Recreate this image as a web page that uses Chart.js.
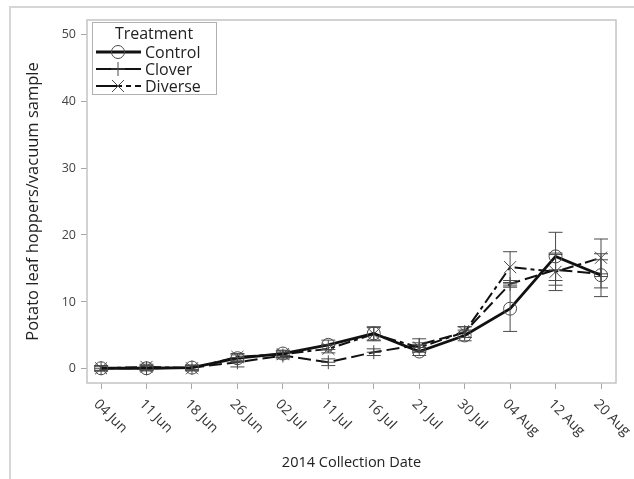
<!DOCTYPE html>
<html>
<head>
<meta charset="utf-8">
<script src="https://cdn.jsdelivr.net/npm/chart.js@4/dist/chart.umd.min.js"></script>
<style>
  html, body { margin: 0; padding: 0; background: #fff; }
  canvas { display: block; }
</style>
</head>
<body>
<canvas id="hoppers" width="634" height="479"></canvas>
<script>
// collection dates and mean counts per treatment, with standard errors
const dates = ["04 Jun", "11 Jun", "18 Jun", "26 Jun", "02 Jul", "11 Jul", "16 Jul", "21 Jul", "30 Jul", "04 Aug", "12 Aug", "20 Aug"];
const control    = [0.1, 0.1, 0.2, 1.6, 2.3, 3.6, 5.3, 2.6, 5.0, 9.0, 16.8, 14.0];
const controlErr = [0.4, 0.4, 0.4, 0.5, 0.5, 0.7, 1.0, 0.6, 0.8, 3.4, 3.6, 3.2];
const clover     = [0.1, 0.1, 0.2, 1.0, 2.0, 1.0, 2.5, 3.6, 5.5, 12.7, 14.8, 14.2];
const cloverErr  = [0.3, 0.3, 0.3, 0.7, 0.5, 0.5, 0.5, 0.9, 0.8, 0.5, 2.3, 2.1];
const diverse    = [0.1, 0.3, 0.1, 1.8, 2.2, 3.0, 5.2, 3.2, 5.5, 15.2, 14.5, 16.6];
const diverseErr = [0.4, 0.4, 0.4, 0.5, 0.5, 0.6, 1.0, 0.7, 0.8, 2.3, 2.8, 2.8];
const yTicks = [0, 10, 20, 30, 40, 50];

const FONT = "'Open Sans', 'DejaVu Sans', sans-serif";
const MARK = "#4a4a4a";

const toPoints = arr => arr.map((v, i) => ({ x: i, y: v }));

const series = [
  { label: "Control", data: control, err: controlErr, width: 2.8, dash: [], legendDash: [], style: "circle", r: 6.5 },
  { label: "Clover",  data: clover,  err: cloverErr,  width: 2,   dash: [13, 5], legendDash: [], style: "cross", r: 7 },
  { label: "Diverse", data: diverse, err: diverseErr, width: 2,   dash: [12, 4, 4, 4], legendDash: [26, 4, 5, 4], style: "crossRot", r: 8.5 },
];

// outer frame (only top and left edges show) and the plot box
const framePlugin = {
  id: "frame",
  beforeDraw(chart) {
    const ctx = chart.ctx;
    ctx.save();
    ctx.strokeStyle = "#d6d6d6";
    ctx.lineWidth = 2;
    ctx.beginPath();
    ctx.moveTo(10, 479);
    ctx.lineTo(10, 7);
    ctx.lineTo(634, 7);
    ctx.stroke();
    ctx.restore();
  },
  beforeDatasetsDraw(chart) {
    const a = chart.chartArea, ctx = chart.ctx;
    ctx.save();
    ctx.strokeStyle = "#c4c4c4";
    ctx.lineWidth = 1.5;
    ctx.strokeRect(a.left, a.top, a.right - a.left, a.bottom - a.top);
    ctx.restore();
  }
};

// vertical error bars with caps
const errorBarPlugin = {
  id: "errorBars",
  afterDatasetsDraw(chart) {
    const ctx = chart.ctx, xs = chart.scales.x, ys = chart.scales.y;
    ctx.save();
    ctx.strokeStyle = MARK;
    ctx.lineWidth = 1;
    series.forEach(s => {
      s.data.forEach((v, i) => {
        const x = xs.getPixelForValue(i);
        const yLo = ys.getPixelForValue(v - s.err[i]);
        const yHi = ys.getPixelForValue(v + s.err[i]);
        ctx.beginPath();
        ctx.moveTo(x, yLo); ctx.lineTo(x, yHi);
        ctx.moveTo(x - 7, yLo); ctx.lineTo(x + 7, yLo);
        ctx.moveTo(x - 7, yHi); ctx.lineTo(x + 7, yHi);
        ctx.stroke();
      });
    });
    ctx.restore();
  }
};

// date labels slanting down to the right, starting at each tick
const dateLabelPlugin = {
  id: "dateLabels",
  afterDraw(chart) {
    const ctx = chart.ctx, xs = chart.scales.x;
    ctx.save();
    ctx.font = "14px " + FONT;
    ctx.fillStyle = "#333";
    ctx.textAlign = "left";
    ctx.textBaseline = "middle";
    dates.forEach((d, i) => {
      const x = xs.getPixelForValue(i);
      ctx.save();
      ctx.translate(x - 5, xs.top + 19);
      ctx.rotate(Math.PI / 4);
      ctx.fillText(d, 0, 0);
      ctx.restore();
    });
    ctx.restore();
  }
};

// boxed legend in the upper-left corner of the plot
const legendPlugin = {
  id: "treatmentLegend",
  afterDraw(chart) {
    const ctx = chart.ctx;
    const bx = 92, by = 22, bw = 124, bh = 72;
    ctx.save();
    ctx.fillStyle = "#fff";
    ctx.fillRect(bx, by, bw, bh);
    ctx.strokeStyle = "#b0b0b0";
    ctx.lineWidth = 1;
    ctx.strokeRect(bx + 0.5, by + 0.5, bw, bh);

    ctx.fillStyle = "#222";
    ctx.font = "16px " + FONT;
    ctx.textAlign = "center";
    ctx.textBaseline = "middle";
    ctx.fillText("Treatment", bx + bw / 2, by + 12);

    series.forEach((s, k) => {
      const y = by + 30 + k * 17;
      ctx.strokeStyle = "#111";
      ctx.lineWidth = s.width;
      ctx.setLineDash(s.legendDash);
      ctx.beginPath();
      ctx.moveTo(96, y); ctx.lineTo(141, y);
      ctx.stroke();
      ctx.setLineDash([]);
      ctx.strokeStyle = MARK;
      ctx.fillStyle = "rgba(0,0,0,0)";
      ctx.lineWidth = 1;
      Chart.helpers.drawPoint(ctx, { pointStyle: s.style, radius: s.r, borderWidth: 1 }, 118, y);
      ctx.fillStyle = "#222";
      ctx.textAlign = "left";
      ctx.fillText(s.label, 145, y + 1);
    });
    ctx.restore();
  }
};

new Chart(document.getElementById("hoppers"), {
  type: "line",
  data: {
    datasets: series.map(s => ({
      label: s.label,
      data: toPoints(s.data),
      borderColor: "#111",
      borderWidth: s.width,
      borderDash: s.dash,
      tension: 0,
      fill: false,
      pointStyle: s.style,
      pointRadius: s.r,
      pointBorderColor: MARK,
      pointBackgroundColor: "rgba(0,0,0,0)",
      pointBorderWidth: 1
    }))
  },
  options: {
    responsive: false,
    animation: false,
    devicePixelRatio: 1,
    layout: { padding: { left: 0, top: 20, right: 18, bottom: 0 } },
    plugins: { legend: { display: false }, tooltip: { enabled: false } },
    scales: {
      x: {
        type: "linear",
        min: -0.31,
        max: 11.33,
        afterBuildTicks: scale => { scale.ticks = dates.map((d, i) => ({ value: i })); },
        afterFit: scale => { scale.height = 96; },
        ticks: { display: false },
        grid: { drawOnChartArea: false, drawTicks: true, tickLength: 6, color: "#a8a8a8" },
        border: { display: false },
        title: {
          display: true,
          text: "2014 Collection Date",
          color: "#222",
          font: { family: FONT, size: 14.5 },
          padding: { top: 0, bottom: 7 }
        }
      },
      y: {
        type: "linear",
        min: -2.1,
        max: 52.1,
        afterBuildTicks: scale => { scale.ticks = yTicks.map(v => ({ value: v })); },
        afterFit: scale => { scale.width = 87; },
        ticks: { color: "#444", font: { family: FONT, size: 12.5 }, padding: 5 },
        grid: { drawOnChartArea: false, drawTicks: true, tickLength: 6, color: "#a8a8a8" },
        border: { display: false },
        title: {
          display: true,
          text: "Potato leaf hoppers/vacuum sample",
          color: "#222",
          font: { family: FONT, size: 16.5 },
          padding: { top: 23, bottom: 0 }
        }
      }
    }
  },
  plugins: [framePlugin, errorBarPlugin, dateLabelPlugin, legendPlugin]
});
</script>
</body>
</html>
